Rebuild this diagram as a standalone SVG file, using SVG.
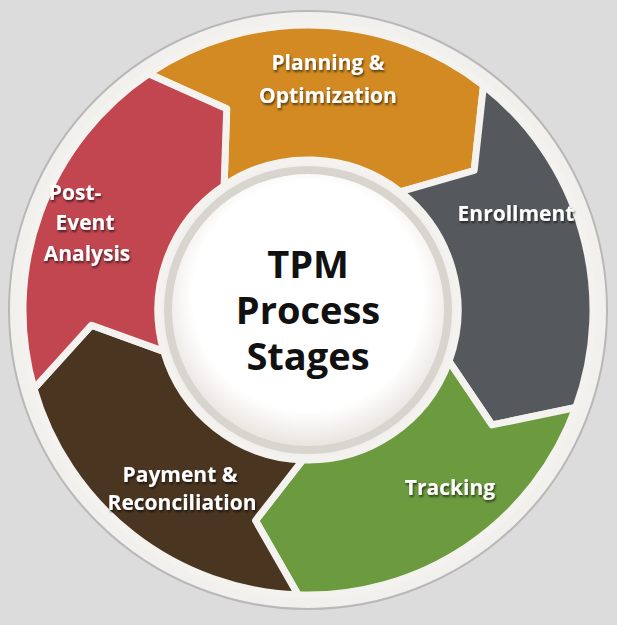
<svg xmlns="http://www.w3.org/2000/svg" width="617" height="625" viewBox="0 0 617 625">
<defs>
<path id="seg" d="M -167.5 -230.6 A 285 285 0 0 1 167.5 -230.6 L 161.3 -145.2 L 88.2 -121.4 A 150 150 0 0 0 -88.2 -121.4 L -88.3 -198.2 Z"/>
<radialGradient id="cg" cx="0.5" cy="0.45" r="0.55"><stop offset="0.75" stop-color="#ffffff"/><stop offset="1" stop-color="#e6e2dc"/></radialGradient>
<filter id="sh" x="-10%" y="-10%" width="120%" height="130%"><feDropShadow dx="1" dy="2" stdDeviation="1.2" flood-color="#000" flood-opacity="0.6"/></filter>
</defs>
<style>
.s{stroke:#f4f2ef;stroke-width:7;stroke-linejoin:round}
.l{font-family:"Open Sans","Liberation Sans",sans-serif;font-weight:bold;font-size:21px;fill:#fff;text-anchor:middle;filter:url(#sh)}
.c{font-family:"Open Sans","Liberation Sans",sans-serif;font-weight:bold;font-size:38px;fill:#111;text-anchor:middle}
</style>
<rect width="617" height="625" fill="#dcdcdc"/>
<circle cx="308" cy="310" r="299" fill="#f2f0ed" stroke="#b8b8b8" stroke-width="2"/>
<g id="planning"><use href="#seg" class="s" fill="#d38a22" transform="translate(308 310) rotate(2)"/>
<text class="l" x="328" y="70">Planning &amp;</text><text class="l" x="328" y="103">Optimization</text></g>
<g id="enrollment"><use href="#seg" class="s" fill="#55595e" transform="translate(308 310) rotate(74)"/>
<text class="l" x="516" y="221">Enrollment</text></g>
<g id="tracking"><use href="#seg" class="s" fill="#6b9a3f" transform="translate(308 310) rotate(146)"/>
<text class="l" x="450" y="495">Tracking</text></g>
<g id="payment"><use href="#seg" class="s" fill="#4a3521" transform="translate(308 310) rotate(218)"/>
<text class="l" x="180" y="482">Payment &amp;</text><text class="l" x="182" y="510">Reconciliation</text></g>
<g id="postevent"><use href="#seg" class="s" fill="#c24650" transform="translate(308 310) rotate(290)"/>
<text class="l" x="75" y="200">Post-</text><text class="l" x="85" y="230">Event</text><text class="l" x="87" y="261">Analysis</text></g>
<g id="center"><circle cx="308" cy="310" r="140" fill="url(#cg)" stroke="#d8d4ce" stroke-width="8"/>
<text class="c" x="308" y="278">TPM</text><text class="c" x="308" y="324">Process</text><text class="c" x="308" y="370">Stages</text></g>
<g id="connectors"/>
</svg>
